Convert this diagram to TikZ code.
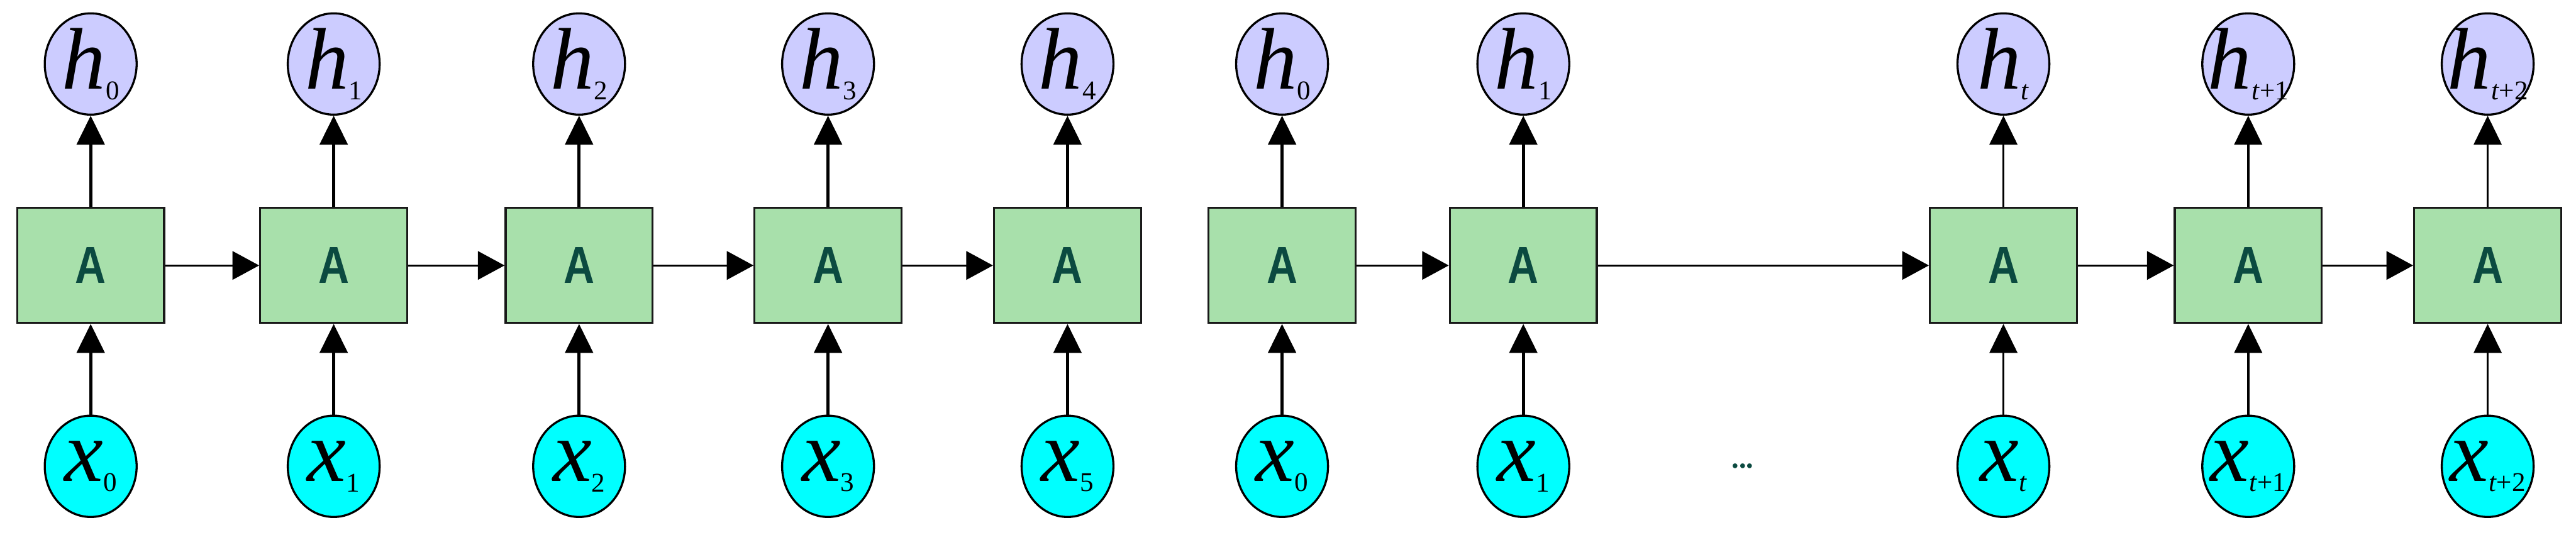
\documentclass[tikz,border=0pt]{standalone}
\usepackage{fontspec}
\setmainfont{Liberation Serif}
\newfontfamily\cellfont[FakeStretch=0.82]{Liberation Sans}
\usepackage{tikz}
\usetikzlibrary{arrows.meta, positioning, shapes.geometric}
\usepackage{xcolor}
\definecolor{hfill}{HTML}{CCCCFF}
\definecolor{xfill}{HTML}{00FFFF}
\definecolor{cellfill}{HTML}{A8E0AB}
\definecolor{celltext}{HTML}{0B4A40}
\newcommand{\lbl}[2]{\makebox[0pt][c]{\textit{#1}\raisebox{-0.12em}{\fontsize{13}{13}\selectfont #2}}}

\begin{document}
\begin{tikzpicture}[
    cell/.style={rectangle, draw=black!90, fill=cellfill, minimum width=2.48cm, minimum height=1.94cm, inner sep=0pt, line width=1pt, font=\cellfont\bfseries\fontsize{25}{27}\selectfont, text=celltext},
    hstate/.style={ellipse, draw, fill=hfill, minimum width=1.55cm, minimum height=1.71cm, inner sep=0pt, line width=1pt, font=\fontsize{42}{44}\selectfont},
    xinput/.style={ellipse, draw, fill=xfill, minimum width=1.55cm, minimum height=1.71cm, inner sep=0pt, line width=1pt, font=\fontsize{42}{44}\selectfont},
    arrowup/.style={-{Triangle[width=0.47cm, length=0.49cm]}, line width=1.4pt},
    arrowright/.style={-{Triangle[width=0.48cm, length=0.45cm]}, line width=0.85pt}
]
    \useasboundingbox (0, 0) rectangle (43.46, 9.02);

    % 第一段：五个单元
    \node[cell] (c0) at (1.53, 4.54) {A};
    \node[cell] (c1) at (5.63, 4.54) {A};
    \node[cell] (c2) at (9.77, 4.54) {A};
    \node[cell] (c3) at (13.97, 4.54) {A};
    \node[cell] (c4) at (18.01, 4.54) {A};
    \node[hstate] (h0) at (1.53, 7.94) {\lbl{h}{0}};
    \node[hstate] (h1) at (5.63, 7.94) {\lbl{h}{1}};
    \node[hstate] (h2) at (9.77, 7.94) {\lbl{h}{2}};
    \node[hstate] (h3) at (13.97, 7.94) {\lbl{h}{3}};
    \node[hstate] (h4) at (18.01, 7.94) {\lbl{h}{4}};
    \node[xinput] (x0) at (1.53, 1.15) {\lbl{x}{0}};
    \node[xinput] (x1) at (5.63, 1.15) {\lbl{x}{1}};
    \node[xinput] (x2) at (9.77, 1.15) {\lbl{x}{2}};
    \node[xinput] (x3) at (13.97, 1.15) {\lbl{x}{3}};
    \node[xinput] (x5) at (18.01, 1.15) {\lbl{x}{5}};

    % 第二段：展开到 t
    \node[cell] (ca) at (21.63, 4.54) {A};
    \node[cell] (cb) at (25.70, 4.54) {A};
    \node[cell] (ct) at (33.80, 4.54) {A};
    \node[cell] (ctt) at (37.93, 4.54) {A};
    \node[cell] (cttt) at (41.97, 4.54) {A};
    \node[hstate] (ha) at (21.63, 7.94) {\lbl{h}{0}};
    \node[hstate] (hb) at (25.70, 7.94) {\lbl{h}{1}};
    \node[hstate] (ht) at (33.80, 7.94) {\lbl{h}{\textit{t}}};
    \node[hstate] (htt) at (37.93, 7.94) {\lbl{h}{\textit{t}+1}};
    \node[hstate] (httt) at (41.97, 7.94) {\lbl{h}{\textit{t}+2}};
    \node[xinput] (xa) at (21.63, 1.15) {\lbl{x}{0}};
    \node[xinput] (xb) at (25.70, 1.15) {\lbl{x}{1}};
    \node[xinput] (xt) at (33.80, 1.15) {\lbl{x}{\textit{t}}};
    \node[xinput] (xtt) at (37.93, 1.15) {\lbl{x}{\textit{t}+1}};
    \node[xinput] (xttt) at (41.97, 1.15) {\lbl{x}{\textit{t}+2}};
    \node[font=\fontsize{14}{14}\selectfont\bfseries, text=celltext] (dots) at (29.40, 1.15) {...};

    % 箭头：输入 → 单元 → 输出
    \draw[arrowup] (x0) -- (c0);
    \draw[arrowup] (x1) -- (c1);
    \draw[arrowup] (x2) -- (c2);
    \draw[arrowup] (x3) -- (c3);
    \draw[arrowup] (x5) -- (c4);
    \draw[arrowup] (xa) -- (ca);
    \draw[arrowup] (xb) -- (cb);
    \draw[arrowup, line width=1pt] (xt) -- (ct);
    \draw[arrowup, line width=1pt] (xtt) -- (ctt);
    \draw[arrowup, line width=1pt] (xttt) -- (cttt);
    \draw[arrowup] (c0) -- (h0);
    \draw[arrowup] (c1) -- (h1);
    \draw[arrowup] (c2) -- (h2);
    \draw[arrowup] (c3) -- (h3);
    \draw[arrowup] (c4) -- (h4);
    \draw[arrowup] (ca) -- (ha);
    \draw[arrowup] (cb) -- (hb);
    \draw[arrowup, line width=1pt] (ct) -- (ht);
    \draw[arrowup, line width=1pt] (ctt) -- (htt);
    \draw[arrowup, line width=1pt] (cttt) -- (httt);

    % 箭头：单元之间
    \draw[arrowright] (c0.east) -- (c1.west);
    \draw[arrowright] (c1.east) -- (c2.west);
    \draw[arrowright] (c2.east) -- (c3.west);
    \draw[arrowright] (c3.east) -- (c4.west);
    \draw[arrowright] (ca.east) -- (cb.west);
    \draw[arrowright] (cb.east) -- (ct.west);
    \draw[arrowright] (ct.east) -- (ctt.west);
    \draw[arrowright] (ctt.east) -- (cttt.west);
\end{tikzpicture}
\end{document}
